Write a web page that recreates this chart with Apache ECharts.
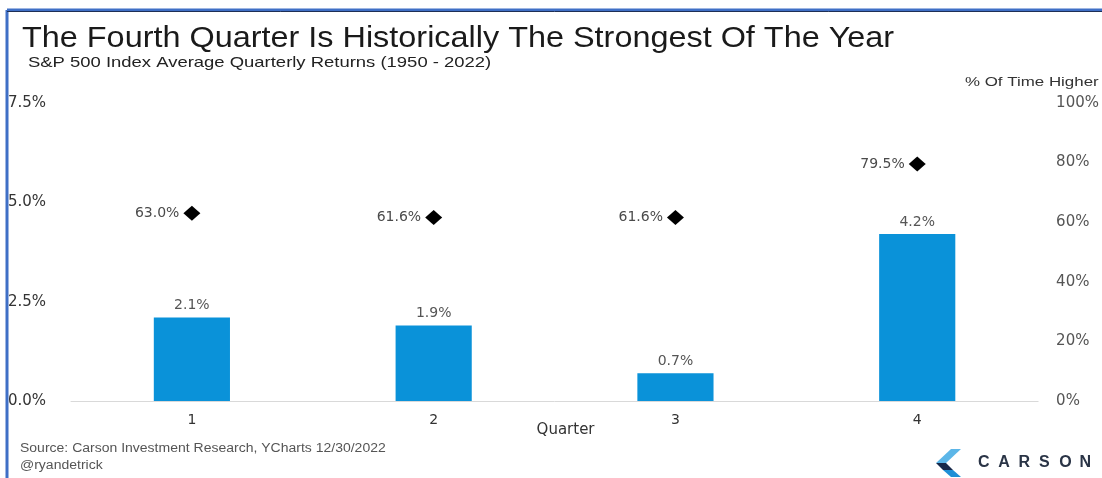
<!DOCTYPE html>
<html>
<head>
<meta charset="utf-8">
<script src="https://cdn.jsdelivr.net/npm/echarts@6/dist/echarts.min.js"></script>
<style>
html,body{margin:0;padding:0;background:#fff;}
#c{width:1102px;height:478px;}
</style>
</head>
<body>
<div id="c"></div>
<script>
const quarters = ['1', '2', '3', '4'];
const avgReturn = [2.1, 1.9, 0.7, 4.2];
const pctHigher = [63.0, 61.6, 61.6, 79.5];
const leftTicks = [0, 2.5, 5.0, 7.5];
const rightTicks = [0, 20, 40, 60, 80, 100];

const FONT = '"Liberation Sans", Arial, sans-serif';
const LFONT = '"DejaVu Sans", "Liberation Sans", sans-serif';
const chart = echarts.init(document.getElementById('c'), null, {renderer: 'canvas'});

const logoLetters = ['C', 'A', 'R', 'S', 'O', 'N'];
const logoText = logoLetters.map((ch, i) => ({
  type: 'text', x: 978 + i * 20.3, y: 455,
  style: {text: ch, fill: '#2a3446', fontSize: 16, fontWeight: 'bold', fontFamily: FONT}
}));

chart.setOption({
  backgroundColor: '#ffffff',
  animation: false,
  textStyle: {fontFamily: FONT},
  grid: {left: 71, right: 62, top: 103, bottom: 77, containLabel: false},
  xAxis: {
    type: 'category',
    data: quarters,
    axisLine: {show: true, lineStyle: {color: '#d9d9d9', width: 1}},
    axisTick: {show: false},
    axisLabel: {color: '#333', fontSize: 14, margin: 12, fontFamily: LFONT},
    name: 'Quarter',
    nameLocation: 'middle',
    nameGap: 22,
    nameMoveOverlap: false,
    nameTextStyle: {color: '#333', fontSize: 15, fontFamily: LFONT, padding: [0, 0, 0, 22]}
  },
  yAxis: [
    {
      type: 'value', min: leftTicks[0], max: leftTicks[leftTicks.length - 1], interval: 2.5,
      position: 'left',
      axisLine: {show: false}, axisTick: {show: false}, splitLine: {show: false},
      axisLabel: {
        color: '#333', fontSize: 15, margin: 63, align: 'left', fontFamily: LFONT,
        formatter: v => v.toFixed(1) + '%'
      }
    },
    {
      type: 'value', min: rightTicks[0], max: rightTicks[rightTicks.length - 1], interval: 20,
      position: 'right',
      axisLine: {show: false}, axisTick: {show: false}, splitLine: {show: false},
      axisLabel: {
        color: '#555', fontSize: 15, margin: 18, align: 'left', fontFamily: LFONT,
        formatter: v => v + '%'
      }
    }
  ],
  series: [
    {
      type: 'bar',
      data: avgReturn,
      yAxisIndex: 0,
      barWidth: '31.5%',
      itemStyle: {color: '#0a92d9'},
      label: {
        show: true, position: 'top', distance: 5, color: '#555', fontSize: 14, fontFamily: LFONT,
        formatter: p => p.value.toFixed(1) + '%'
      }
    },
    {
      type: 'scatter',
      data: pctHigher,
      yAxisIndex: 1,
      symbol: 'diamond',
      symbolSize: [17, 15],
      itemStyle: {color: '#000', opacity: 1},
      label: {
        show: true, position: 'left', distance: 4, color: '#4a4a4a', fontSize: 14, fontFamily: LFONT,
        formatter: p => p.value.toFixed(1) + '%'
      }
    }
  ],
  graphic: [
    {type: 'line', shape: {x1: 7, y1: 10, x2: 1102, y2: 10}, style: {stroke: '#3f6fc6', lineWidth: 3}},
    {type: 'line', shape: {x1: 7, y1: 10, x2: 7, y2: 478}, style: {stroke: '#3f6fc6', lineWidth: 3}},
    {type: 'line', shape: {x1: 7, y1: 11.5, x2: 1102, y2: 11.5}, style: {stroke: '#1e2f55', lineWidth: 1}},
    {type: 'text', x: 22, y: 24, scaleX: 1.08, style: {text: 'The Fourth Quarter Is Historically The Strongest Of The Year', fill: '#1a1a1a', fontSize: 30, fontFamily: FONT}},
    {type: 'text', x: 28, y: 55, scaleX: 1.23, style: {text: 'S&P 500 Index Average Quarterly Returns (1950 - 2022)', fill: '#222', fontSize: 15, fontFamily: FONT}},
    {type: 'text', x: 965, y: 76, scaleX: 1.3, style: {text: '% Of Time Higher', fill: '#333', fontSize: 13, fontFamily: FONT}},
    {type: 'text', x: 20, y: 442, scaleX: 1.12, style: {text: 'Source: Carson Investment Research, YCharts 12/30/2022', fill: '#555', fontSize: 12.5, fontFamily: FONT}},
    {type: 'text', x: 20, y: 459, scaleX: 1.12, style: {text: '@ryandetrick', fill: '#555', fontSize: 12.5, fontFamily: FONT}},
    {type: 'polygon', shape: {points: [[951, 449], [961, 449], [946, 463], [936, 463]]}, style: {fill: '#5cb6e8'}},
    {type: 'polygon', shape: {points: [[936, 463], [946, 463], [953, 470], [943, 470]]}, style: {fill: '#17294a'}},
    {type: 'polygon', shape: {points: [[943, 470], [953, 470], [961, 477], [951, 477]]}, style: {fill: '#1f8fd6'}}
  ].concat(logoText)
});
</script>
</body>
</html>
